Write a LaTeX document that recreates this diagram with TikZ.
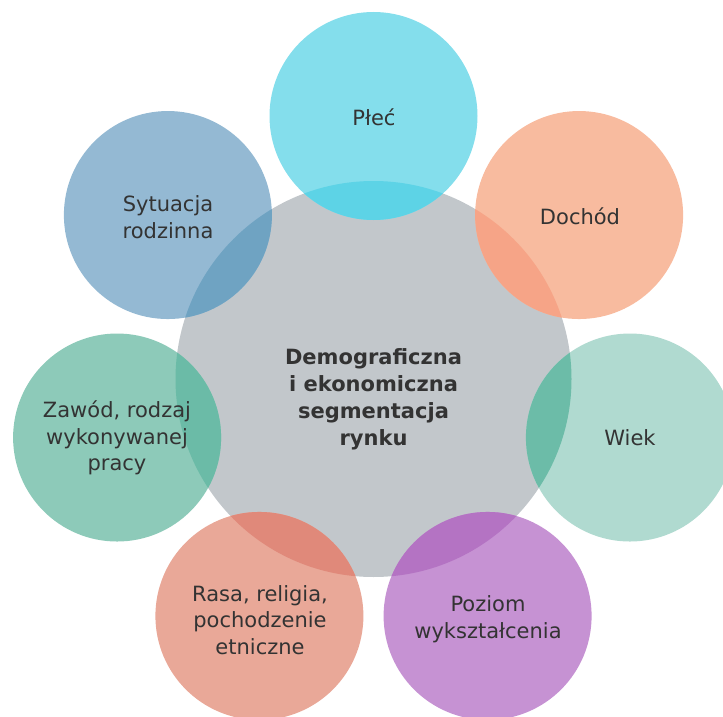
\documentclass[tikz,border=0pt]{standalone}
\usepackage{fontspec}
\setmainfont{DejaVu Sans}
\usetikzlibrary{calc}
\definecolor{txt}{HTML}{333333}
\definecolor{cgray}{HTML}{C2C7CB}
\definecolor{cPlec}{HTML}{84DEEC}\definecolor{oPlec}{HTML}{5DD3E6}
\definecolor{cDoch}{HTML}{F8BB9F}\definecolor{oDoch}{HTML}{F6A487}
\definecolor{cWiek}{HTML}{B0DAD0}\definecolor{oWiek}{HTML}{6CBCA8}
\definecolor{cPoz}{HTML}{C692D3}\definecolor{oPoz}{HTML}{B473C3}
\definecolor{cRasa}{HTML}{E9A898}\definecolor{oRasa}{HTML}{E0897A}
\definecolor{cZaw}{HTML}{8DCAB9}\definecolor{oZaw}{HTML}{6BBBA7}
\definecolor{cSyt}{HTML}{94B9D3}\definecolor{oSyt}{HTML}{6FA3C2}
\tikzset{
  lbl/.style={align=center,text=txt,font=\fontsize{21}{26.5}\selectfont},
  mainlbl/.style={align=center,text=txt,font=\fontsize{21}{27}\selectfont\bfseries},
}
\begin{document}
\begin{tikzpicture}[x=1pt,y=-1pt]
\useasboundingbox (0,0) rectangle (723,717);
\coordinate (C) at (373.5,379);
\fill[cgray] (C) circle[radius=198pt];
\foreach \ang/\cc/\oc [count=\i] in {90/cPlec/oPlec, 38.571/cDoch/oDoch, -12.857/cWiek/oWiek, -64.286/cPoz/oPoz, -115.714/cRasa/oRasa, -167.143/cZaw/oZaw, 141.429/cSyt/oSyt}{
  \coordinate (o\i) at ($(C)+({263*cos(\ang)},{-263*sin(\ang)})$);
  \fill[\cc] (o\i) circle[radius=104pt];
  \begin{scope}
    \clip (C) circle[radius=198pt];
    \fill[\oc] (o\i) circle[radius=104pt];
  \end{scope}
}
\node[mainlbl] (main) at (373.5,399) {Demograficzna\\i ekonomiczna\\segmentacja\\rynku};
\node[lbl] (plec) at (374,117) {Płeć};
\node[lbl] (doch) at (580,216) {Dochód};
\node[lbl] (wiek) at (630,438) {Wiek};
\node[lbl] (poz) at (488,619) {Poziom\\wykształcenia};
\node[lbl] (rasa) at (260,620) {Rasa, religia,\\pochodzenie\\etniczne};
\node[lbl] (zaw) at (117,438) {Zawód, rodzaj\\wykonywanej\\pracy};
\node[lbl] (syt) at (168,217) {Sytuacja\\rodzinna};
\end{tikzpicture}
\end{document}
